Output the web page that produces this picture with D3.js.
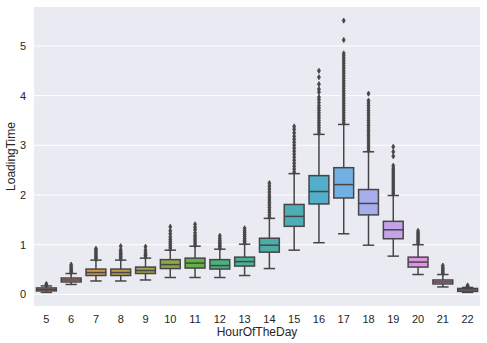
<!DOCTYPE html>
<html>
<head>
<meta charset="utf-8">
<script src="https://cdn.jsdelivr.net/npm/d3@7"></script>
<style>
  body { margin:0; background:#fff; }
  text { font-family: "Liberation Sans", Arial, sans-serif; fill:#262626; }
</style>
</head>
<body>
<div id="chart"></div>
<script>
// values, one entry per hour
const hours       = [5, 6, 7, 8, 9, 10, 11, 12, 13, 14, 15, 16, 17, 18, 19, 20, 21, 22];
const whiskerLow  = [0.04, 0.20, 0.27, 0.27, 0.29, 0.34, 0.34, 0.34, 0.38, 0.52, 0.89, 1.04, 1.22, 0.99, 0.77, 0.40, 0.15, 0.04];
const q1          = [0.07, 0.25, 0.38, 0.38, 0.42, 0.52, 0.53, 0.51, 0.57, 0.85, 1.37, 1.82, 1.94, 1.60, 1.12, 0.55, 0.21, 0.06];
const median      = [0.10, 0.29, 0.44, 0.44, 0.48, 0.60, 0.63, 0.58, 0.66, 0.99, 1.57, 2.07, 2.21, 1.83, 1.30, 0.65, 0.25, 0.09];
const q3          = [0.13, 0.33, 0.51, 0.51, 0.55, 0.70, 0.73, 0.70, 0.75, 1.13, 1.81, 2.39, 2.55, 2.11, 1.47, 0.75, 0.29, 0.12];
const whiskerHigh = [0.17, 0.42, 0.69, 0.69, 0.73, 0.89, 0.97, 0.91, 1.01, 1.53, 2.43, 3.22, 3.42, 2.87, 1.99, 1.00, 0.40, 0.14];
const fliers = [
  [0.18, 0.19, 0.21],
  [0.44, 0.47, 0.50, 0.53, 0.56, 0.60],
  [0.71, 0.74, 0.77, 0.80, 0.83, 0.86, 0.89, 0.92],
  [0.71, 0.74, 0.77, 0.80, 0.83, 0.86, 0.90, 0.97],
  [0.75, 0.78, 0.81, 0.84, 0.89, 0.96],
  [0.91, 0.95, 0.99, 1.03, 1.07, 1.11, 1.16, 1.22, 1.28, 1.36],
  [0.99, 1.03, 1.07, 1.11, 1.15, 1.19, 1.24, 1.30, 1.35, 1.41],
  [0.93, 0.96, 0.99, 1.02, 1.05, 1.09, 1.13, 1.18],
  [1.03, 1.06, 1.09, 1.12, 1.16, 1.20, 1.24, 1.28, 1.33],
  [1.55, 1.60, 1.65, 1.70, 1.75, 1.80, 1.85, 1.90, 1.95, 2.00, 2.06, 2.12, 2.18, 2.24],
  [2.46, 2.52, 2.58, 2.64, 2.70, 2.76, 2.82, 2.88, 2.94, 3.00, 3.06, 3.12, 3.18, 3.25, 3.32, 3.38],
  [3.25, 3.30, 3.35, 3.40, 3.45, 3.50, 3.55, 3.60, 3.65, 3.70, 3.75, 3.80, 3.86, 3.92, 3.97, 4.07, 4.13, 4.23, 4.37, 4.50],
  [3.45, 3.50, 3.55, 3.60, 3.65, 3.70, 3.75, 3.80, 3.85, 3.90, 3.95, 4.00, 4.05, 4.10, 4.15, 4.20, 4.25, 4.30, 4.35, 4.40,
   4.45, 4.50, 4.55, 4.60, 4.65, 4.70, 4.75, 4.80, 4.85, 5.12, 5.51],
  [2.90, 2.95, 3.00, 3.05, 3.10, 3.15, 3.20, 3.25, 3.30, 3.35, 3.40, 3.45, 3.50, 3.55, 3.60, 3.65, 3.70, 3.75, 3.80, 3.85, 3.90, 4.04],
  [2.02, 2.06, 2.10, 2.14, 2.18, 2.22, 2.26, 2.30, 2.34, 2.38, 2.42, 2.46, 2.50, 2.54, 2.59, 2.78, 2.87, 2.97],
  [1.03, 1.06, 1.09, 1.12, 1.15, 1.18, 1.21, 1.24, 1.28],
  [0.42, 0.45, 0.48, 0.51, 0.54, 0.58],
  [0.15, 0.16, 0.18]
];
const yTicks = [0, 1, 2, 3, 4, 5];

const w = 487, h = 343;
const m = { top:7, right:7, bottom:37, left:34 };
const iw = w - m.left - m.right, ih = h - m.top - m.bottom;

// husl palette like seaborn does it (h=.01, s=.9, l=.7), then desaturated to .75
const M = [[3.2406, -1.5372, -0.4986], [-0.9689, 1.8758, 0.0415], [0.0557, -0.2040, 1.0570]];
function maxChroma(L, H) {
  const hr = H / 360 * Math.PI * 2, sinH = Math.sin(hr), cosH = Math.cos(hr);
  const sub1 = Math.pow(L + 16, 3) / 1560896;
  const sub2 = sub1 > 0.008856 ? sub1 : L / 903.3;
  let res = Infinity;
  for (const [m1, m2, m3] of M) {
    const top = (0.99915 * m1 + 1.05122 * m2 + 1.14460 * m3) * sub2;
    const rb = 0.86330 * m3 - 0.17266 * m2;
    const lb = 0.12949 * m3 - 0.38848 * m1;
    const bottom = (rb * sinH + lb * cosH) * sub2;
    for (const t of [0, 1]) {
      const C = L * (top - 1.05122 * t) / (bottom + 0.17266 * sinH * t);
      if (C > 0 && C < res) res = C;
    }
  }
  return res;
}
function huslToRgb(H, S, L) {
  const C = maxChroma(L, H) / 100 * S;
  const hr = H / 360 * Math.PI * 2;
  const U = C * Math.cos(hr), V = C * Math.sin(hr);
  const t = (L + 16) / 116;
  const varY = Math.pow(t, 3) > 0.008856 ? Math.pow(t, 3) : (116 * t - 16) / 903.3;
  const varU = U / (13 * L) + 0.19784, varV = V / (13 * L) + 0.46834;
  const Y = varY;
  const X = 0 - (9 * Y * varU) / ((varU - 4) * varV - varU * varV);
  const Z = (9 * Y - 15 * varV * Y - varV * X) / (3 * varV);
  return M.map(r => {
    const c = r[0] * X + r[1] * Y + r[2] * Z;
    const v = c <= 0.0031308 ? 12.92 * c : 1.055 * Math.pow(c, 1 / 2.4) - 0.055;
    return Math.max(0, Math.min(1, v));
  });
}
const colors = hours.map((d, i) => {
  const hue = ((i / hours.length + 0.01) % 1) * 359;
  const [r, g_, b] = huslToRgb(hue, 0.9 * 99, 0.7 * 100);
  const c = d3.hsl(d3.rgb(r * 255, g_ * 255, b * 255));
  c.s *= 0.75;
  return c;
});
const lum = d3.min(colors, c => c.l) * 0.6;
const gray = d3.rgb(lum * 255, lum * 255, lum * 255).formatHex();

const svg = d3.select("#chart").append("svg").attr("width", w).attr("height", h);
const g = svg.append("g").attr("transform", `translate(${m.left},${m.top})`);

const x = d3.scaleBand().domain(hours).range([0, iw]).padding(0);
const allVals = whiskerLow.concat(whiskerHigh, fliers.flat());
const lo = d3.min(allVals), hi = d3.max(allVals), pad = (hi - lo) * 0.05;
const y = d3.scaleLinear().domain([lo - pad, hi + pad]).range([ih, 0]);

g.append("rect").attr("width", iw).attr("height", ih).attr("fill", "#eaeaf2");

// white grid, no tick marks (darkgrid)
g.selectAll(".grid").data(yTicks).enter().append("line")
  .attr("x1", 0).attr("x2", iw)
  .attr("y1", d => y(d)).attr("y2", d => y(d))
  .attr("stroke", "#fff").attr("stroke-width", 1);

const gy = g.append("g").call(d3.axisLeft(y).tickValues(yTicks).tickSize(0).tickPadding(8).tickFormat(d3.format("d")));
gy.select(".domain").remove();
gy.selectAll("text").style("font-size", "11px").attr("fill", "#262626");

const gx = g.append("g").attr("transform", `translate(0,${ih})`)
  .call(d3.axisBottom(x).tickSize(0).tickPadding(9));
gx.select(".domain").remove();
gx.selectAll("text").style("font-size", "11px").attr("fill", "#262626");

g.append("text").attr("x", iw / 2).attr("y", ih + 30).attr("text-anchor", "middle")
  .style("font-size", "12px").text("HourOfTheDay");
g.append("text").attr("transform", "rotate(-90)").attr("x", -ih / 2).attr("y", -19)
  .attr("text-anchor", "middle").style("font-size", "12px").text("LoadingTime");

const bw = x.bandwidth() * 0.8, cw = bw * 0.5, lw = 1.5;
const boxes = g.selectAll(".box").data(hours).enter().append("g")
  .attr("transform", d => `translate(${x(d) + x.bandwidth() / 2},0)`);

boxes.each(function(d, i) {
  const b = d3.select(this);
  // whiskers
  b.append("line").attr("x1", 0).attr("x2", 0).attr("y1", y(q3[i])).attr("y2", y(whiskerHigh[i]))
    .attr("stroke", gray).attr("stroke-width", lw);
  b.append("line").attr("x1", 0).attr("x2", 0).attr("y1", y(q1[i])).attr("y2", y(whiskerLow[i]))
    .attr("stroke", gray).attr("stroke-width", lw);
  // caps
  [whiskerHigh[i], whiskerLow[i]].forEach(v => {
    b.append("line").attr("x1", -cw / 2).attr("x2", cw / 2).attr("y1", y(v)).attr("y2", y(v))
      .attr("stroke", gray).attr("stroke-width", lw).attr("stroke-linecap", "square");
  });
  b.append("rect").attr("x", -bw / 2).attr("width", bw)
    .attr("y", y(q3[i])).attr("height", y(q1[i]) - y(q3[i]))
    .attr("fill", colors[i]).attr("stroke", gray).attr("stroke-width", lw);
  b.append("line").attr("x1", -bw / 2).attr("x2", bw / 2).attr("y1", y(median[i])).attr("y2", y(median[i]))
    .attr("stroke", gray).attr("stroke-width", lw);
  // outliers as thin diamonds
  b.selectAll("path").data(fliers[i]).enter().append("path")
    .attr("d", v => `M0,${y(v) - 2.6}L1.5,${y(v)}L0,${y(v) + 2.6}L-1.5,${y(v)}Z`)
    .attr("fill", gray).attr("stroke", gray).attr("stroke-width", 0.8);
});
</script>
</body>
</html>
